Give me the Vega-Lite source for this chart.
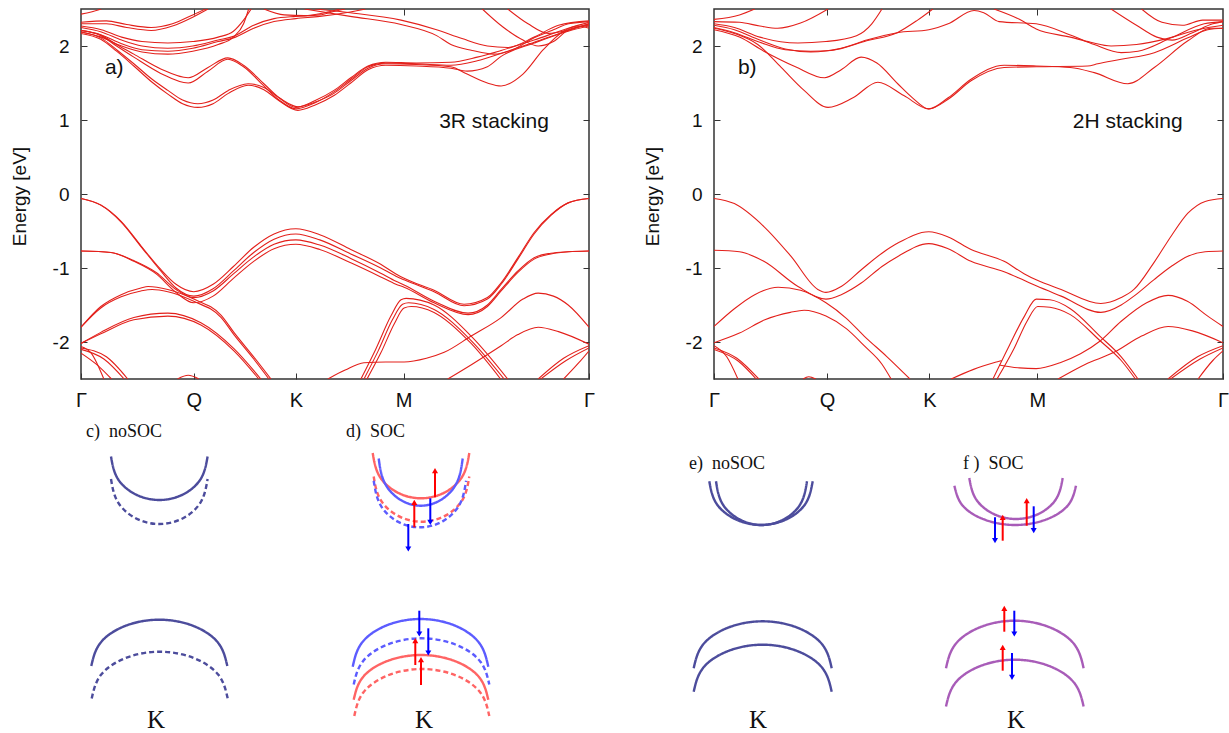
{
"$schema":"https://vega.github.io/schema/vega-lite/v6.json",
"padding":{"left":9,"top":7,"right":0,"bottom":0},
"background":"white",
"config":{"view":{"stroke":"#333","strokeWidth":1.5},"axis":{"labelFont":"Liberation Sans","titleFont":"Liberation Sans","tickColor":"#333","labelColor":"#111","titleColor":"#111","grid":false,"domain":false},"text":{"font":"Liberation Sans"}},
"datasets":{
"bandsA":[
{"b":"v1a","k":0,"E":-0.06},{"b":"v1a","k":0.039,"E":-0.15},{"b":"v1a","k":0.079,"E":-0.37},{"b":"v1a","k":0.118,"E":-0.70},{"b":"v1a","k":0.157,"E":-1.02},{"b":"v1a","k":0.187,"E":-1.22},{"b":"v1a","k":0.222,"E":-1.32},{"b":"v1a","k":0.26,"E":-1.22},{"b":"v1a","k":0.30,"E":-0.98},{"b":"v1a","k":0.34,"E":-0.72},{"b":"v1a","k":0.38,"E":-0.54},{"b":"v1a","k":0.423,"E":-0.47},{"b":"v1a","k":0.47,"E":-0.55},{"b":"v1a","k":0.531,"E":-0.75},{"b":"v1a","k":0.59,"E":-0.95},{"b":"v1a","k":0.62,"E":-1.08},{"b":"v1a","k":0.636,"E":-1.14},{"b":"v1a","k":0.695,"E":-1.30},{"b":"v1a","k":0.754,"E":-1.49},{"b":"v1a","k":0.80,"E":-1.40},{"b":"v1a","k":0.827,"E":-1.20},{"b":"v1a","k":0.86,"E":-0.86},{"b":"v1a","k":0.892,"E":-0.52},{"b":"v1a","k":0.925,"E":-0.28},{"b":"v1a","k":0.959,"E":-0.12},{"b":"v1a","k":1,"E":-0.06},
{"b":"v1b","k":0,"E":-0.06},{"b":"v1b","k":0.039,"E":-0.15},{"b":"v1b","k":0.079,"E":-0.38},{"b":"v1b","k":0.118,"E":-0.71},{"b":"v1b","k":0.157,"E":-1.04},{"b":"v1b","k":0.187,"E":-1.27},{"b":"v1b","k":0.222,"E":-1.38},{"b":"v1b","k":0.26,"E":-1.28},{"b":"v1b","k":0.30,"E":-1.04},{"b":"v1b","k":0.34,"E":-0.79},{"b":"v1b","k":0.38,"E":-0.61},{"b":"v1b","k":0.423,"E":-0.54},{"b":"v1b","k":0.47,"E":-0.62},{"b":"v1b","k":0.531,"E":-0.81},{"b":"v1b","k":0.59,"E":-1.0},{"b":"v1b","k":0.62,"E":-1.11},{"b":"v1b","k":0.636,"E":-1.16},{"b":"v1b","k":0.695,"E":-1.32},{"b":"v1b","k":0.754,"E":-1.51},{"b":"v1b","k":0.80,"E":-1.42},{"b":"v1b","k":0.827,"E":-1.22},{"b":"v1b","k":0.86,"E":-0.88},{"b":"v1b","k":0.892,"E":-0.54},{"b":"v1b","k":0.925,"E":-0.29},{"b":"v1b","k":0.959,"E":-0.12},{"b":"v1b","k":1,"E":-0.06},
{"b":"v2a","k":0,"E":-0.77},{"b":"v2a","k":0.059,"E":-0.79},{"b":"v2a","k":0.104,"E":-0.90},{"b":"v2a","k":0.148,"E":-1.06},{"b":"v2a","k":0.187,"E":-1.29},{"b":"v2a","k":0.222,"E":-1.40},{"b":"v2a","k":0.26,"E":-1.31},{"b":"v2a","k":0.30,"E":-1.08},{"b":"v2a","k":0.34,"E":-0.85},{"b":"v2a","k":0.38,"E":-0.68},{"b":"v2a","k":0.423,"E":-0.62},{"b":"v2a","k":0.47,"E":-0.69},{"b":"v2a","k":0.531,"E":-0.87},{"b":"v2a","k":0.59,"E":-1.07},{"b":"v2a","k":0.62,"E":-1.18},{"b":"v2a","k":0.636,"E":-1.23},{"b":"v2a","k":0.695,"E":-1.45},{"b":"v2a","k":0.762,"E":-1.61},{"b":"v2a","k":0.80,"E":-1.50},{"b":"v2a","k":0.827,"E":-1.29},{"b":"v2a","k":0.86,"E":-1.04},{"b":"v2a","k":0.892,"E":-0.86},{"b":"v2a","k":0.925,"E":-0.80},{"b":"v2a","k":0.959,"E":-0.78},{"b":"v2a","k":1,"E":-0.77},
{"b":"v2b","k":0,"E":-0.77},{"b":"v2b","k":0.059,"E":-0.79},{"b":"v2b","k":0.104,"E":-0.91},{"b":"v2b","k":0.148,"E":-1.08},{"b":"v2b","k":0.187,"E":-1.33},{"b":"v2b","k":0.222,"E":-1.47},{"b":"v2b","k":0.26,"E":-1.38},{"b":"v2b","k":0.30,"E":-1.14},{"b":"v2b","k":0.34,"E":-0.91},{"b":"v2b","k":0.38,"E":-0.74},{"b":"v2b","k":0.423,"E":-0.68},{"b":"v2b","k":0.47,"E":-0.75},{"b":"v2b","k":0.531,"E":-0.93},{"b":"v2b","k":0.59,"E":-1.12},{"b":"v2b","k":0.62,"E":-1.22},{"b":"v2b","k":0.636,"E":-1.26},{"b":"v2b","k":0.695,"E":-1.47},{"b":"v2b","k":0.762,"E":-1.63},{"b":"v2b","k":0.80,"E":-1.52},{"b":"v2b","k":0.827,"E":-1.31},{"b":"v2b","k":0.86,"E":-1.06},{"b":"v2b","k":0.892,"E":-0.88},{"b":"v2b","k":0.925,"E":-0.81},{"b":"v2b","k":0.959,"E":-0.78},{"b":"v2b","k":1,"E":-0.77},
{"b":"v3a","k":0,"E":-1.80},{"b":"v3a","k":0.039,"E":-1.52},{"b":"v3a","k":0.079,"E":-1.36},{"b":"v3a","k":0.118,"E":-1.27},{"b":"v3a","k":0.132,"E":-1.25},{"b":"v3a","k":0.171,"E":-1.29},{"b":"v3a","k":0.222,"E":-1.42},{"b":"v3a","k":0.276,"E":-1.64},{"b":"v3a","k":0.301,"E":-1.87},{"b":"v3a","k":0.34,"E":-2.2},{"b":"v3a","k":0.374,"E":-2.5},
{"b":"v3b","k":0,"E":-1.80},{"b":"v3b","k":0.039,"E":-1.54},{"b":"v3b","k":0.079,"E":-1.39},{"b":"v3b","k":0.118,"E":-1.31},{"b":"v3b","k":0.14,"E":-1.29},{"b":"v3b","k":0.171,"E":-1.32},{"b":"v3b","k":0.222,"E":-1.45},{"b":"v3b","k":0.276,"E":-1.67},{"b":"v3b","k":0.301,"E":-1.90},{"b":"v3b","k":0.34,"E":-2.23},{"b":"v3b","k":0.37,"E":-2.5},
{"b":"v4a","k":0,"E":-2.02},{"b":"v4a","k":0.039,"E":-1.87},{"b":"v4a","k":0.104,"E":-1.67},{"b":"v4a","k":0.171,"E":-1.61},{"b":"v4a","k":0.236,"E":-1.74},{"b":"v4a","k":0.301,"E":-2.09},{"b":"v4a","k":0.354,"E":-2.5},
{"b":"v4b","k":0,"E":-2.02},{"b":"v4b","k":0.039,"E":-1.89},{"b":"v4b","k":0.104,"E":-1.70},{"b":"v4b","k":0.171,"E":-1.65},{"b":"v4b","k":0.236,"E":-1.77},{"b":"v4b","k":0.301,"E":-2.12},{"b":"v4b","k":0.35,"E":-2.5},
{"b":"v5","k":0,"E":-2.06},{"b":"v5","k":0.02,"E":-2.15},{"b":"v5","k":0.045,"E":-2.5},
{"b":"v6","k":0,"E":-2.08},{"b":"v6","k":0.05,"E":-2.2},{"b":"v6","k":0.092,"E":-2.5},
{"b":"v7","k":0,"E":-2.10},{"b":"v7","k":0.045,"E":-2.23},{"b":"v7","k":0.085,"E":-2.5},
{"b":"v8","k":0,"E":-2.15},{"b":"v8","k":0.03,"E":-2.3},{"b":"v8","k":0.06,"E":-2.5},
{"b":"v9","k":0.486,"E":-2.5},{"b":"v9","k":0.52,"E":-2.38},{"b":"v9","k":0.557,"E":-2.28},{"b":"v9","k":0.60,"E":-2.27},{"b":"v9","k":0.636,"E":-2.27},{"b":"v9","k":0.68,"E":-2.22},{"b":"v9","k":0.715,"E":-2.14},{"b":"v9","k":0.768,"E":-1.92},{"b":"v9","k":0.827,"E":-1.67},{"b":"v9","k":0.87,"E":-1.42},{"b":"v9","k":0.90,"E":-1.34},{"b":"v9","k":0.93,"E":-1.38},{"b":"v9","k":0.959,"E":-1.50},{"b":"v9","k":1,"E":-1.80},
{"b":"v10","k":0.722,"E":-2.5},{"b":"v10","k":0.77,"E":-2.3},{"b":"v10","k":0.827,"E":-2.05},{"b":"v10","k":0.86,"E":-1.90},{"b":"v10","k":0.90,"E":-1.80},{"b":"v10","k":0.94,"E":-1.86},{"b":"v10","k":1,"E":-2.03},
{"b":"v11a","k":0.551,"E":-2.5},{"b":"v11a","k":0.58,"E":-2.1},{"b":"v11a","k":0.61,"E":-1.65},{"b":"v11a","k":0.63,"E":-1.43},{"b":"v11a","k":0.64,"E":-1.41},{"b":"v11a","k":0.695,"E":-1.50},{"b":"v11a","k":0.768,"E":-1.92},{"b":"v11a","k":0.84,"E":-2.5},
{"b":"v11b","k":0.557,"E":-2.5},{"b":"v11b","k":0.585,"E":-2.12},{"b":"v11b","k":0.613,"E":-1.7},{"b":"v11b","k":0.633,"E":-1.49},{"b":"v11b","k":0.645,"E":-1.47},{"b":"v11b","k":0.695,"E":-1.56},{"b":"v11b","k":0.768,"E":-1.98},{"b":"v11b","k":0.833,"E":-2.5},
{"b":"v11c","k":0.563,"E":-2.5},{"b":"v11c","k":0.59,"E":-2.15},{"b":"v11c","k":0.617,"E":-1.75},{"b":"v11c","k":0.636,"E":-1.54},{"b":"v11c","k":0.65,"E":-1.52},{"b":"v11c","k":0.695,"E":-1.60},{"b":"v11c","k":0.768,"E":-2.02},{"b":"v11c","k":0.826,"E":-2.5},
{"b":"v12","k":0.90,"E":-2.5},{"b":"v12","k":0.95,"E":-2.22},{"b":"v12","k":1,"E":-2.05},
{"b":"v13","k":0.905,"E":-2.5},{"b":"v13","k":0.955,"E":-2.25},{"b":"v13","k":1,"E":-2.08},
{"b":"v14","k":0.95,"E":-2.5},{"b":"v14","k":0.98,"E":-2.28},{"b":"v14","k":1,"E":-2.12},
{"b":"v15","k":0.19,"E":-2.5},{"b":"v15","k":0.211,"E":-2.45},{"b":"v15","k":0.232,"E":-2.5},
{"b":"c1a","k":0,"E":2.19},{"b":"c1a","k":0.039,"E":2.11},{"b":"c1a","k":0.07,"E":1.95},{"b":"c1a","k":0.104,"E":1.76},{"b":"c1a","k":0.14,"E":1.55},{"b":"c1a","k":0.171,"E":1.40},{"b":"c1a","k":0.20,"E":1.27},{"b":"c1a","k":0.230,"E":1.22},{"b":"c1a","k":0.26,"E":1.27},{"b":"c1a","k":0.29,"E":1.40},{"b":"c1a","k":0.329,"E":1.49},{"b":"c1a","k":0.36,"E":1.44},{"b":"c1a","k":0.39,"E":1.30},{"b":"c1a","k":0.427,"E":1.18},{"b":"c1a","k":0.46,"E":1.24},{"b":"c1a","k":0.498,"E":1.36},{"b":"c1a","k":0.531,"E":1.53},{"b":"c1a","k":0.565,"E":1.70},{"b":"c1a","k":0.60,"E":1.76},{"b":"c1a","k":0.66,"E":1.75},{"b":"c1a","k":0.728,"E":1.72},{"b":"c1a","k":0.76,"E":1.62},{"b":"c1a","k":0.80,"E":1.50},{"b":"c1a","k":0.827,"E":1.46},{"b":"c1a","k":0.87,"E":1.62},{"b":"c1a","k":0.91,"E":1.95},{"b":"c1a","k":0.95,"E":2.20},{"b":"c1a","k":0.98,"E":2.27},{"b":"c1a","k":1,"E":2.24},
{"b":"c1b","k":0,"E":2.17},{"b":"c1b","k":0.039,"E":2.09},{"b":"c1b","k":0.07,"E":1.93},{"b":"c1b","k":0.104,"E":1.73},{"b":"c1b","k":0.14,"E":1.51},{"b":"c1b","k":0.171,"E":1.35},{"b":"c1b","k":0.20,"E":1.22},{"b":"c1b","k":0.230,"E":1.17},{"b":"c1b","k":0.26,"E":1.22},{"b":"c1b","k":0.29,"E":1.36},{"b":"c1b","k":0.329,"E":1.47},{"b":"c1b","k":0.36,"E":1.41},{"b":"c1b","k":0.39,"E":1.26},{"b":"c1b","k":0.427,"E":1.13},{"b":"c1b","k":0.46,"E":1.20},{"b":"c1b","k":0.498,"E":1.33},{"b":"c1b","k":0.531,"E":1.50},{"b":"c1b","k":0.565,"E":1.68},{"b":"c1b","k":0.60,"E":1.74},{"b":"c1b","k":0.66,"E":1.73},{"b":"c1b","k":0.728,"E":1.70},{"b":"c1b","k":0.76,"E":1.66},{"b":"c1b","k":0.80,"E":1.72},{"b":"c1b","k":0.827,"E":1.86},{"b":"c1b","k":0.892,"E":2.04},{"b":"c1b","k":0.959,"E":2.20},{"b":"c1b","k":1,"E":2.27},
{"b":"c2a","k":0,"E":2.21},{"b":"c2a","k":0.039,"E":2.15},{"b":"c2a","k":0.07,"E":2.02},{"b":"c2a","k":0.104,"E":1.89},{"b":"c2a","k":0.157,"E":1.69},{"b":"c2a","k":0.211,"E":1.57},{"b":"c2a","k":0.25,"E":1.71},{"b":"c2a","k":0.289,"E":1.84},{"b":"c2a","k":0.32,"E":1.74},{"b":"c2a","k":0.36,"E":1.49},{"b":"c2a","k":0.39,"E":1.30},{"b":"c2a","k":0.423,"E":1.17},{"b":"c2a","k":0.46,"E":1.26},{"b":"c2a","k":0.498,"E":1.40},{"b":"c2a","k":0.531,"E":1.57},{"b":"c2a","k":0.565,"E":1.73},{"b":"c2a","k":0.60,"E":1.78},{"b":"c2a","k":0.66,"E":1.77},{"b":"c2a","k":0.728,"E":1.78},{"b":"c2a","k":0.78,"E":1.85},{"b":"c2a","k":0.827,"E":1.94},{"b":"c2a","k":0.892,"E":2.08},{"b":"c2a","k":0.959,"E":2.24},{"b":"c2a","k":1,"E":2.32},
{"b":"c2b","k":0,"E":2.21},{"b":"c2b","k":0.039,"E":2.14},{"b":"c2b","k":0.07,"E":2.0},{"b":"c2b","k":0.104,"E":1.85},{"b":"c2b","k":0.157,"E":1.63},{"b":"c2b","k":0.211,"E":1.50},{"b":"c2b","k":0.25,"E":1.66},{"b":"c2b","k":0.289,"E":1.82},{"b":"c2b","k":0.32,"E":1.72},{"b":"c2b","k":0.36,"E":1.46},{"b":"c2b","k":0.39,"E":1.27},{"b":"c2b","k":0.423,"E":1.15},{"b":"c2b","k":0.46,"E":1.23},{"b":"c2b","k":0.498,"E":1.38},{"b":"c2b","k":0.531,"E":1.55},{"b":"c2b","k":0.565,"E":1.72},{"b":"c2b","k":0.60,"E":1.77},{"b":"c2b","k":0.66,"E":1.76},{"b":"c2b","k":0.728,"E":1.74},{"b":"c2b","k":0.78,"E":1.80},{"b":"c2b","k":0.827,"E":1.90},{"b":"c2b","k":0.892,"E":2.05},{"b":"c2b","k":0.959,"E":2.21},{"b":"c2b","k":1,"E":2.30},
{"b":"u1","k":0,"E":2.43},{"b":"u1","k":0.02,"E":2.46},{"b":"u1","k":0.04,"E":2.5},
{"b":"u2","k":0,"E":2.32},{"b":"u2","k":0.05,"E":2.34},{"b":"u2","k":0.09,"E":2.29},{"b":"u2","k":0.138,"E":2.25},{"b":"u2","k":0.18,"E":2.30},{"b":"u2","k":0.22,"E":2.42},{"b":"u2","k":0.245,"E":2.5},
{"b":"u3","k":0,"E":2.30},{"b":"u3","k":0.05,"E":2.30},{"b":"u3","k":0.09,"E":2.25},{"b":"u3","k":0.138,"E":2.21},{"b":"u3","k":0.18,"E":2.27},{"b":"u3","k":0.22,"E":2.39},{"b":"u3","k":0.25,"E":2.5},
{"b":"u4","k":0,"E":2.27},{"b":"u4","k":0.04,"E":2.22},{"b":"u4","k":0.08,"E":2.12},{"b":"u4","k":0.12,"E":2.06},{"b":"u4","k":0.171,"E":2.04},{"b":"u4","k":0.22,"E":2.06},{"b":"u4","k":0.27,"E":2.12},{"b":"u4","k":0.30,"E":2.2},{"b":"u4","k":0.32,"E":2.35},{"b":"u4","k":0.335,"E":2.5},
{"b":"u5","k":0,"E":2.25},{"b":"u5","k":0.04,"E":2.19},{"b":"u5","k":0.08,"E":2.08},{"b":"u5","k":0.12,"E":2.0},{"b":"u5","k":0.171,"E":1.97},{"b":"u5","k":0.22,"E":2.0},{"b":"u5","k":0.27,"E":2.08},{"b":"u5","k":0.30,"E":2.13},{"b":"u5","k":0.34,"E":2.28},{"b":"u5","k":0.38,"E":2.37},{"b":"u5","k":0.423,"E":2.40},{"b":"u5","k":0.47,"E":2.42},{"b":"u5","k":0.50,"E":2.47},{"b":"u5","k":0.52,"E":2.5},
{"b":"u6","k":0,"E":2.21},{"b":"u6","k":0.04,"E":2.15},{"b":"u6","k":0.08,"E":2.03},{"b":"u6","k":0.12,"E":1.95},{"b":"u6","k":0.171,"E":1.93},{"b":"u6","k":0.22,"E":1.97},{"b":"u6","k":0.27,"E":2.06},{"b":"u6","k":0.30,"E":2.11},{"b":"u6","k":0.34,"E":2.24},{"b":"u6","k":0.38,"E":2.33},{"b":"u6","k":0.423,"E":2.37},{"b":"u6","k":0.47,"E":2.40},{"b":"u6","k":0.53,"E":2.46},{"b":"u6","k":0.56,"E":2.5},
{"b":"u7","k":0,"E":2.19},{"b":"u7","k":0.04,"E":2.12},{"b":"u7","k":0.08,"E":2.0},{"b":"u7","k":0.12,"E":1.92},{"b":"u7","k":0.171,"E":1.89},{"b":"u7","k":0.22,"E":1.93},{"b":"u7","k":0.27,"E":2.02},{"b":"u7","k":0.30,"E":2.12},{"b":"u7","k":0.32,"E":2.3},{"b":"u7","k":0.33,"E":2.5},
{"b":"u8","k":0.44,"E":2.5},{"b":"u8","k":0.53,"E":2.40},{"b":"u8","k":0.63,"E":2.29},{"b":"u8","k":0.70,"E":2.14},{"b":"u8","k":0.728,"E":2.02},{"b":"u8","k":0.77,"E":1.94},{"b":"u8","k":0.813,"E":1.89},{"b":"u8","k":0.85,"E":1.95},{"b":"u8","k":0.892,"E":2.11},{"b":"u8","k":0.93,"E":2.22},{"b":"u8","k":0.96,"E":2.30},{"b":"u8","k":1,"E":2.33},
{"b":"u9","k":0.46,"E":2.5},{"b":"u9","k":0.53,"E":2.45},{"b":"u9","k":0.63,"E":2.35},{"b":"u9","k":0.70,"E":2.22},{"b":"u9","k":0.75,"E":2.10},{"b":"u9","k":0.80,"E":2.0},{"b":"u9","k":0.84,"E":1.98},{"b":"u9","k":0.892,"E":2.12},{"b":"u9","k":0.94,"E":2.28},{"b":"u9","k":1,"E":2.34},
{"b":"u10","k":0.79,"E":2.5},{"b":"u10","k":0.83,"E":2.26},{"b":"u10","k":0.87,"E":2.08},{"b":"u10","k":0.90,"E":2.0},{"b":"u10","k":0.93,"E":2.06},{"b":"u10","k":0.96,"E":2.22},{"b":"u10","k":1,"E":2.28},
{"b":"u11","k":0.84,"E":2.5},{"b":"u11","k":0.88,"E":2.3},{"b":"u11","k":0.92,"E":2.17},{"b":"u11","k":0.96,"E":2.22},{"b":"u11","k":1,"E":2.3},
{"b":"u12","k":0.36,"E":2.5},{"b":"u12","k":0.40,"E":2.42},{"b":"u12","k":0.44,"E":2.41},{"b":"u12","k":0.48,"E":2.45},{"b":"u12","k":0.51,"E":2.5}
],
"bandsB":[
{"b":"v1","k":0,"E":-0.06},{"b":"v1","k":0.04,"E":-0.13},{"b":"v1","k":0.098,"E":-0.44},{"b":"v1","k":0.151,"E":-0.84},{"b":"v1","k":0.204,"E":-1.29},{"b":"v1","k":0.220,"E":-1.33},{"b":"v1","k":0.25,"E":-1.25},{"b":"v1","k":0.29,"E":-1.02},{"b":"v1","k":0.33,"E":-0.80},{"b":"v1","k":0.362,"E":-0.66},{"b":"v1","k":0.422,"E":-0.51},{"b":"v1","k":0.46,"E":-0.58},{"b":"v1","k":0.505,"E":-0.75},{"b":"v1","k":0.570,"E":-0.91},{"b":"v1","k":0.61,"E":-1.08},{"b":"v1","k":0.633,"E":-1.16},{"b":"v1","k":0.682,"E":-1.29},{"b":"v1","k":0.760,"E":-1.48},{"b":"v1","k":0.80,"E":-1.40},{"b":"v1","k":0.825,"E":-1.29},{"b":"v1","k":0.864,"E":-0.93},{"b":"v1","k":0.90,"E":-0.55},{"b":"v1","k":0.931,"E":-0.26},{"b":"v1","k":0.965,"E":-0.10},{"b":"v1","k":1,"E":-0.06},
{"b":"v2","k":0,"E":-0.76},{"b":"v2","k":0.05,"E":-0.78},{"b":"v2","k":0.098,"E":-0.91},{"b":"v2","k":0.165,"E":-1.25},{"b":"v2","k":0.220,"E":-1.42},{"b":"v2","k":0.25,"E":-1.36},{"b":"v2","k":0.29,"E":-1.20},{"b":"v2","k":0.33,"E":-0.98},{"b":"v2","k":0.362,"E":-0.84},{"b":"v2","k":0.422,"E":-0.67},{"b":"v2","k":0.46,"E":-0.74},{"b":"v2","k":0.505,"E":-0.91},{"b":"v2","k":0.570,"E":-1.05},{"b":"v2","k":0.61,"E":-1.17},{"b":"v2","k":0.633,"E":-1.24},{"b":"v2","k":0.682,"E":-1.38},{"b":"v2","k":0.760,"E":-1.60},{"b":"v2","k":0.80,"E":-1.50},{"b":"v2","k":0.825,"E":-1.38},{"b":"v2","k":0.864,"E":-1.16},{"b":"v2","k":0.90,"E":-0.97},{"b":"v2","k":0.931,"E":-0.84},{"b":"v2","k":0.965,"E":-0.78},{"b":"v2","k":1,"E":-0.77},
{"b":"v3","k":0,"E":-1.79},{"b":"v3","k":0.04,"E":-1.55},{"b":"v3","k":0.08,"E":-1.36},{"b":"v3","k":0.126,"E":-1.26},{"b":"v3","k":0.17,"E":-1.30},{"b":"v3","k":0.220,"E":-1.47},{"b":"v3","k":0.26,"E":-1.68},{"b":"v3","k":0.295,"E":-1.92},{"b":"v3","k":0.34,"E":-2.2},{"b":"v3","k":0.385,"E":-2.5},
{"b":"v4","k":0,"E":-2.01},{"b":"v4","k":0.05,"E":-1.88},{"b":"v4","k":0.10,"E":-1.70},{"b":"v4","k":0.15,"E":-1.60},{"b":"v4","k":0.177,"E":-1.57},{"b":"v4","k":0.22,"E":-1.65},{"b":"v4","k":0.26,"E":-1.82},{"b":"v4","k":0.295,"E":-2.05},{"b":"v4","k":0.33,"E":-2.3},{"b":"v4","k":0.348,"E":-2.5},
{"b":"v5","k":0,"E":-2.05},{"b":"v5","k":0.025,"E":-2.2},{"b":"v5","k":0.047,"E":-2.5},
{"b":"v6","k":0,"E":-2.08},{"b":"v6","k":0.045,"E":-2.22},{"b":"v6","k":0.088,"E":-2.5},
{"b":"v7","k":0,"E":-2.10},{"b":"v7","k":0.048,"E":-2.26},{"b":"v7","k":0.083,"E":-2.5},
{"b":"v8","k":0.175,"E":-2.5},{"b":"v8","k":0.186,"E":-2.47},{"b":"v8","k":0.2,"E":-2.5},
{"b":"v9","k":0.466,"E":-2.5},{"b":"v9","k":0.51,"E":-2.37},{"b":"v9","k":0.555,"E":-2.27},{"b":"v9","k":0.565,"E":-2.25},
{"b":"v10","k":0.56,"E":-2.31},{"b":"v10","k":0.60,"E":-2.35},{"b":"v10","k":0.633,"E":-2.36},{"b":"v10","k":0.68,"E":-2.28},{"b":"v10","k":0.72,"E":-2.16},{"b":"v10","k":0.758,"E":-1.99},{"b":"v10","k":0.80,"E":-1.72},{"b":"v10","k":0.85,"E":-1.47},{"b":"v10","k":0.892,"E":-1.37},{"b":"v10","k":0.93,"E":-1.45},{"b":"v10","k":0.97,"E":-1.65},{"b":"v10","k":1,"E":-1.79},
{"b":"v11","k":0.676,"E":-2.5},{"b":"v11","k":0.73,"E":-2.3},{"b":"v11","k":0.786,"E":-2.14},{"b":"v11","k":0.84,"E":-1.92},{"b":"v11","k":0.892,"E":-1.79},{"b":"v11","k":0.94,"E":-1.85},{"b":"v11","k":1,"E":-2.01},
{"b":"v12","k":0.548,"E":-2.5},{"b":"v12","k":0.58,"E":-2.05},{"b":"v12","k":0.61,"E":-1.65},{"b":"v12","k":0.633,"E":-1.42},{"b":"v12","k":0.66,"E":-1.43},{"b":"v12","k":0.70,"E":-1.55},{"b":"v12","k":0.758,"E":-1.92},{"b":"v12","k":0.80,"E":-2.2},{"b":"v12","k":0.833,"E":-2.5},
{"b":"v13","k":0.556,"E":-2.5},{"b":"v13","k":0.59,"E":-2.08},{"b":"v13","k":0.615,"E":-1.72},{"b":"v13","k":0.636,"E":-1.52},{"b":"v13","k":0.66,"E":-1.53},{"b":"v13","k":0.70,"E":-1.63},{"b":"v13","k":0.758,"E":-1.98},{"b":"v13","k":0.80,"E":-2.25},{"b":"v13","k":0.828,"E":-2.5},
{"b":"v14","k":0.892,"E":-2.5},{"b":"v14","k":0.95,"E":-2.2},{"b":"v14","k":1,"E":-2.05},
{"b":"v15","k":0.897,"E":-2.5},{"b":"v15","k":0.955,"E":-2.23},{"b":"v15","k":1,"E":-2.08},
{"b":"v16","k":0.951,"E":-2.5},{"b":"v16","k":0.98,"E":-2.25},{"b":"v16","k":1,"E":-2.12},
{"b":"c1","k":0,"E":2.24},{"b":"c1","k":0.04,"E":2.17},{"b":"c1","k":0.086,"E":2.02},{"b":"c1","k":0.132,"E":1.71},{"b":"c1","k":0.177,"E":1.40},{"b":"c1","k":0.224,"E":1.17},{"b":"c1","k":0.273,"E":1.30},{"b":"c1","k":0.322,"E":1.51},{"b":"c1","k":0.373,"E":1.33},{"b":"c1","k":0.422,"E":1.15},{"b":"c1","k":0.46,"E":1.30},{"b":"c1","k":0.505,"E":1.55},{"b":"c1","k":0.570,"E":1.74},{"b":"c1","k":0.633,"E":1.73},{"b":"c1","k":0.70,"E":1.71},{"b":"c1","k":0.747,"E":1.64},{"b":"c1","k":0.813,"E":1.49},{"b":"c1","k":0.865,"E":1.71},{"b":"c1","k":0.931,"E":2.07},{"b":"c1","k":0.976,"E":2.24},{"b":"c1","k":1,"E":2.24},
{"b":"c2","k":0,"E":2.22},{"b":"c2","k":0.05,"E":2.12},{"b":"c2","k":0.098,"E":1.93},{"b":"c2","k":0.16,"E":1.72},{"b":"c2","k":0.217,"E":1.57},{"b":"c2","k":0.25,"E":1.68},{"b":"c2","k":0.289,"E":1.85},{"b":"c2","k":0.32,"E":1.77},{"b":"c2","k":0.361,"E":1.49},{"b":"c2","k":0.39,"E":1.30},{"b":"c2","k":0.422,"E":1.15},{"b":"c2","k":0.46,"E":1.28},{"b":"c2","k":0.505,"E":1.53},{"b":"c2","k":0.570,"E":1.71},{"b":"c2","k":0.633,"E":1.72},{"b":"c2","k":0.734,"E":1.73},{"b":"c2","k":0.754,"E":1.76},{"b":"c2","k":0.80,"E":1.82},{"b":"c2","k":0.865,"E":1.91},{"b":"c2","k":0.931,"E":2.11},{"b":"c2","k":0.97,"E":2.22},{"b":"c2","k":1,"E":2.24},
{"b":"u1","k":0,"E":2.33},{"b":"u1","k":0.05,"E":2.32},{"b":"u1","k":0.09,"E":2.27},{"b":"u1","k":0.125,"E":2.24},{"b":"u1","k":0.17,"E":2.31},{"b":"u1","k":0.224,"E":2.5},
{"b":"u2","k":0,"E":2.30},{"b":"u2","k":0.04,"E":2.25},{"b":"u2","k":0.09,"E":2.12},{"b":"u2","k":0.165,"E":2.04},{"b":"u2","k":0.22,"E":2.06},{"b":"u2","k":0.28,"E":2.14},{"b":"u2","k":0.31,"E":2.3},{"b":"u2","k":0.33,"E":2.5},
{"b":"u3","k":0,"E":2.28},{"b":"u3","k":0.04,"E":2.22},{"b":"u3","k":0.09,"E":2.08},{"b":"u3","k":0.14,"E":1.96},{"b":"u3","k":0.19,"E":1.92},{"b":"u3","k":0.25,"E":1.97},{"b":"u3","k":0.30,"E":2.08},{"b":"u3","k":0.36,"E":2.18},{"b":"u3","k":0.422,"E":2.22},{"b":"u3","k":0.46,"E":2.30},{"b":"u3","k":0.511,"E":2.48},{"b":"u3","k":0.53,"E":2.45},{"b":"u3","k":0.56,"E":2.33},{"b":"u3","k":0.633,"E":2.30},{"b":"u3","k":0.70,"E":2.15},{"b":"u3","k":0.747,"E":2.02},{"b":"u3","k":0.80,"E":1.91},{"b":"u3","k":0.833,"E":1.93},{"b":"u3","k":0.898,"E":2.11},{"b":"u3","k":0.963,"E":2.30},{"b":"u3","k":1,"E":2.33},
{"b":"u4","k":0,"E":2.25},{"b":"u4","k":0.04,"E":2.18},{"b":"u4","k":0.09,"E":2.05},{"b":"u4","k":0.14,"E":1.95},{"b":"u4","k":0.19,"E":1.93},{"b":"u4","k":0.23,"E":1.94},{"b":"u4","k":0.30,"E":2.07},{"b":"u4","k":0.36,"E":2.18},{"b":"u4","k":0.40,"E":2.35},{"b":"u4","k":0.43,"E":2.5},
{"b":"u5","k":0.55,"E":2.5},{"b":"u5","k":0.60,"E":2.36},{"b":"u5","k":0.633,"E":2.23},{"b":"u5","k":0.70,"E":2.12},{"b":"u5","k":0.74,"E":2.05},{"b":"u5","k":0.78,"E":2.0},{"b":"u5","k":0.83,"E":2.02},{"b":"u5","k":0.89,"E":2.10},{"b":"u5","k":0.95,"E":2.22},{"b":"u5","k":1,"E":2.28},
{"b":"u6","k":0.78,"E":2.5},{"b":"u6","k":0.83,"E":2.28},{"b":"u6","k":0.87,"E":2.12},{"b":"u6","k":0.90,"E":2.08},{"b":"u6","k":0.94,"E":2.18},{"b":"u6","k":0.98,"E":2.3},{"b":"u6","k":1,"E":2.33},
{"b":"u7","k":0.84,"E":2.5},{"b":"u7","k":0.88,"E":2.32},{"b":"u7","k":0.92,"E":2.28},{"b":"u7","k":0.96,"E":2.35},{"b":"u7","k":1,"E":2.35},
{"b":"u8","k":0,"E":2.36},{"b":"u8","k":0.05,"E":2.42},{"b":"u8","k":0.08,"E":2.5}
],
"curves":[
{"c":"c1","s":"noSOC","layer":"L1","X":11.00,"Y":27.55},{"c":"c1","s":"noSOC","layer":"L1","X":11.65,"Y":25.37},{"c":"c1","s":"noSOC","layer":"L1","X":13.42,"Y":23.78},{"c":"c1","s":"noSOC","layer":"L1","X":15.83,"Y":23.20},{"c":"c1","s":"noSOC","layer":"L1","X":18.25,"Y":23.78},{"c":"c1","s":"noSOC","layer":"L1","X":20.01,"Y":25.37},{"c":"c1","s":"noSOC","layer":"L1","X":20.66,"Y":27.55},
{"c":"c2","s":"noSOC","layer":"L2","X":11.00,"Y":25.30},{"c":"c2","s":"noSOC","layer":"L2","X":11.65,"Y":23.05},{"c":"c2","s":"noSOC","layer":"L2","X":13.42,"Y":21.40},{"c":"c2","s":"noSOC","layer":"L2","X":15.83,"Y":20.80},{"c":"c2","s":"noSOC","layer":"L2","X":18.25,"Y":21.40},{"c":"c2","s":"noSOC","layer":"L2","X":20.01,"Y":23.05},{"c":"c2","s":"noSOC","layer":"L2","X":20.66,"Y":25.30},
{"c":"c3","s":"noSOC","layer":"L1","X":9.03,"Y":6.60},{"c":"c3","s":"noSOC","layer":"L1","X":9.94,"Y":8.91},{"c":"c3","s":"noSOC","layer":"L1","X":12.43,"Y":10.61},{"c":"c3","s":"noSOC","layer":"L1","X":15.83,"Y":11.23},{"c":"c3","s":"noSOC","layer":"L1","X":19.23,"Y":10.61},{"c":"c3","s":"noSOC","layer":"L1","X":21.72,"Y":8.91},{"c":"c3","s":"noSOC","layer":"L1","X":22.63,"Y":6.60},
{"c":"c4","s":"noSOC","layer":"L2","X":9.07,"Y":3.35},{"c":"c4","s":"noSOC","layer":"L2","X":9.98,"Y":5.69},{"c":"c4","s":"noSOC","layer":"L2","X":12.47,"Y":7.40},{"c":"c4","s":"noSOC","layer":"L2","X":15.87,"Y":8.03},{"c":"c4","s":"noSOC","layer":"L2","X":19.27,"Y":7.40},{"c":"c4","s":"noSOC","layer":"L2","X":21.76,"Y":5.69},{"c":"c4","s":"noSOC","layer":"L2","X":22.67,"Y":3.35},
{"c":"d1","s":"bandUp","layer":"L1","X":37.17,"Y":27.90},{"c":"d1","s":"bandUp","layer":"L1","X":37.82,"Y":25.63},{"c":"d1","s":"bandUp","layer":"L1","X":39.59,"Y":23.98},{"c":"d1","s":"bandUp","layer":"L1","X":42.0,"Y":23.37},{"c":"d1","s":"bandUp","layer":"L1","X":44.42,"Y":23.98},{"c":"d1","s":"bandUp","layer":"L1","X":46.18,"Y":25.63},{"c":"d1","s":"bandUp","layer":"L1","X":46.83,"Y":27.90},
{"c":"d2","s":"bandDown","layer":"L1","X":37.77,"Y":27.35},{"c":"d2","s":"bandDown","layer":"L1","X":38.33,"Y":24.99},{"c":"d2","s":"bandDown","layer":"L1","X":39.87,"Y":23.26},{"c":"d2","s":"bandDown","layer":"L1","X":41.97,"Y":22.63},{"c":"d2","s":"bandDown","layer":"L1","X":44.07,"Y":23.26},{"c":"d2","s":"bandDown","layer":"L1","X":45.61,"Y":24.99},{"c":"d2","s":"bandDown","layer":"L1","X":46.17,"Y":27.35},
{"c":"d3","s":"bandUp","layer":"L2","X":37.27,"Y":25.55},{"c":"d3","s":"bandUp","layer":"L2","X":37.91,"Y":23.29},{"c":"d3","s":"bandUp","layer":"L2","X":39.66,"Y":21.64},{"c":"d3","s":"bandUp","layer":"L2","X":42.05,"Y":21.03},{"c":"d3","s":"bandUp","layer":"L2","X":44.44,"Y":21.64},{"c":"d3","s":"bandUp","layer":"L2","X":46.19,"Y":23.29},{"c":"d3","s":"bandUp","layer":"L2","X":46.83,"Y":25.55},
{"c":"d4","s":"bandDown","layer":"L2","X":37.27,"Y":25.13},{"c":"d4","s":"bandDown","layer":"L2","X":37.89,"Y":22.80},{"c":"d4","s":"bandDown","layer":"L2","X":39.58,"Y":21.09},{"c":"d4","s":"bandDown","layer":"L2","X":41.89,"Y":20.47},{"c":"d4","s":"bandDown","layer":"L2","X":44.20,"Y":21.09},{"c":"d4","s":"bandDown","layer":"L2","X":45.89,"Y":22.80},{"c":"d4","s":"bandDown","layer":"L2","X":46.51,"Y":25.13},
{"c":"d5","s":"bandDown","layer":"L1","X":35.17,"Y":6.52},{"c":"d5","s":"bandDown","layer":"L1","X":36.08,"Y":8.91},{"c":"d5","s":"bandDown","layer":"L1","X":38.56,"Y":10.66},{"c":"d5","s":"bandDown","layer":"L1","X":41.95,"Y":11.30},{"c":"d5","s":"bandDown","layer":"L1","X":45.34,"Y":10.66},{"c":"d5","s":"bandDown","layer":"L1","X":47.82,"Y":8.91},{"c":"d5","s":"bandDown","layer":"L1","X":48.73,"Y":6.52},
{"c":"d6","s":"bandDown","layer":"L2","X":35.27,"Y":4.75},{"c":"d6","s":"bandDown","layer":"L2","X":36.18,"Y":7.06},{"c":"d6","s":"bandDown","layer":"L2","X":38.66,"Y":8.75},{"c":"d6","s":"bandDown","layer":"L2","X":42.05,"Y":9.37},{"c":"d6","s":"bandDown","layer":"L2","X":45.44,"Y":8.75},{"c":"d6","s":"bandDown","layer":"L2","X":47.92,"Y":7.06},{"c":"d6","s":"bandDown","layer":"L2","X":48.83,"Y":4.75},
{"c":"d7","s":"bandUp","layer":"L1","X":35.27,"Y":3.22},{"c":"d7","s":"bandUp","layer":"L1","X":36.17,"Y":5.46},{"c":"d7","s":"bandUp","layer":"L1","X":38.64,"Y":7.10},{"c":"d7","s":"bandUp","layer":"L1","X":42.0,"Y":7.70},{"c":"d7","s":"bandUp","layer":"L1","X":45.37,"Y":7.10},{"c":"d7","s":"bandUp","layer":"L1","X":47.83,"Y":5.46},{"c":"d7","s":"bandUp","layer":"L1","X":48.73,"Y":3.22},
{"c":"d8","s":"bandUp","layer":"L2","X":35.33,"Y":1.60},{"c":"d8","s":"bandUp","layer":"L2","X":36.23,"Y":3.95},{"c":"d8","s":"bandUp","layer":"L2","X":38.71,"Y":5.67},{"c":"d8","s":"bandUp","layer":"L2","X":42.08,"Y":6.30},{"c":"d8","s":"bandUp","layer":"L2","X":45.46,"Y":5.67},{"c":"d8","s":"bandUp","layer":"L2","X":47.93,"Y":3.95},{"c":"d8","s":"bandUp","layer":"L2","X":48.83,"Y":1.60},
{"c":"e1","s":"noSOC","layer":"L1","X":70.83,"Y":25.07},{"c":"e1","s":"noSOC","layer":"L1","X":71.52,"Y":22.88},{"c":"e1","s":"noSOC","layer":"L1","X":73.42,"Y":21.29},{"c":"e1","s":"noSOC","layer":"L1","X":76.0,"Y":20.70},{"c":"e1","s":"noSOC","layer":"L1","X":78.59,"Y":21.29},{"c":"e1","s":"noSOC","layer":"L1","X":80.48,"Y":22.88},{"c":"e1","s":"noSOC","layer":"L1","X":81.17,"Y":25.07},
{"c":"e2","s":"noSOC","layer":"L1","X":71.50,"Y":25.07},{"c":"e2","s":"noSOC","layer":"L1","X":72.11,"Y":22.88},{"c":"e2","s":"noSOC","layer":"L1","X":73.80,"Y":21.29},{"c":"e2","s":"noSOC","layer":"L1","X":76.05,"Y":20.70},{"c":"e2","s":"noSOC","layer":"L1","X":78.33,"Y":21.29},{"c":"e2","s":"noSOC","layer":"L1","X":79.99,"Y":22.88},{"c":"e2","s":"noSOC","layer":"L1","X":80.60,"Y":25.07},
{"c":"e3","s":"noSOC","layer":"L1","X":69.27,"Y":6.38},{"c":"e3","s":"noSOC","layer":"L1","X":70.19,"Y":8.72},{"c":"e3","s":"noSOC","layer":"L1","X":72.72,"Y":10.44},{"c":"e3","s":"noSOC","layer":"L1","X":76.17,"Y":11.07},{"c":"e3","s":"noSOC","layer":"L1","X":79.62,"Y":10.44},{"c":"e3","s":"noSOC","layer":"L1","X":82.15,"Y":8.72},{"c":"e3","s":"noSOC","layer":"L1","X":83.07,"Y":6.38},
{"c":"e4","s":"noSOC","layer":"L1","X":69.27,"Y":4.02},{"c":"e4","s":"noSOC","layer":"L1","X":70.19,"Y":6.38},{"c":"e4","s":"noSOC","layer":"L1","X":72.72,"Y":8.10},{"c":"e4","s":"noSOC","layer":"L1","X":76.17,"Y":8.73},{"c":"e4","s":"noSOC","layer":"L1","X":79.62,"Y":8.10},{"c":"e4","s":"noSOC","layer":"L1","X":82.15,"Y":6.38},{"c":"e4","s":"noSOC","layer":"L1","X":83.07,"Y":4.02},
{"c":"f1","s":"both","layer":"L1","X":95.34,"Y":24.63},{"c":"f1","s":"both","layer":"L1","X":96.15,"Y":22.66},{"c":"f1","s":"both","layer":"L1","X":98.38,"Y":21.23},{"c":"f1","s":"both","layer":"L1","X":101.42,"Y":20.70},{"c":"f1","s":"both","layer":"L1","X":104.46,"Y":21.23},{"c":"f1","s":"both","layer":"L1","X":106.69,"Y":22.66},{"c":"f1","s":"both","layer":"L1","X":107.50,"Y":24.63},
{"c":"f2","s":"both","layer":"L1","X":96.83,"Y":25.40},{"c":"f2","s":"both","layer":"L1","X":97.46,"Y":23.35},{"c":"f2","s":"both","layer":"L1","X":99.17,"Y":21.85},{"c":"f2","s":"both","layer":"L1","X":101.5,"Y":21.30},{"c":"f2","s":"both","layer":"L1","X":103.84,"Y":21.85},{"c":"f2","s":"both","layer":"L1","X":105.54,"Y":23.35},{"c":"f2","s":"both","layer":"L1","X":106.17,"Y":25.40},
{"c":"f3","s":"both","layer":"L1","X":94.50,"Y":6.38},{"c":"f3","s":"both","layer":"L1","X":95.42,"Y":8.75},{"c":"f3","s":"both","layer":"L1","X":97.94,"Y":10.49},{"c":"f3","s":"both","layer":"L1","X":101.38,"Y":11.13},{"c":"f3","s":"both","layer":"L1","X":104.82,"Y":10.49},{"c":"f3","s":"both","layer":"L1","X":107.34,"Y":8.75},{"c":"f3","s":"both","layer":"L1","X":108.26,"Y":6.38},
{"c":"f4","s":"both","layer":"L1","X":94.50,"Y":2.55},{"c":"f4","s":"both","layer":"L1","X":95.42,"Y":4.89},{"c":"f4","s":"both","layer":"L1","X":97.94,"Y":6.60},{"c":"f4","s":"both","layer":"L1","X":101.38,"Y":7.23},{"c":"f4","s":"both","layer":"L1","X":104.82,"Y":6.60},{"c":"f4","s":"both","layer":"L1","X":107.34,"Y":4.89},{"c":"f4","s":"both","layer":"L1","X":108.26,"Y":2.55}
],
"arrows":[
{"spin":"up","X":43.4,"tail":23.47,"head":26.13},
{"spin":"up","X":41.33,"tail":20.47,"head":22.97},
{"spin":"down","X":42.93,"tail":23.37,"head":20.97},
{"spin":"down","X":40.73,"tail":20.8,"head":18.3},
{"spin":"down","X":41.83,"tail":12.13,"head":9.8},
{"spin":"down","X":42.73,"tail":10.37,"head":7.9},
{"spin":"up","X":41.43,"tail":6.7,"head":9.13},
{"spin":"up","X":42.0,"tail":4.7,"head":7.23},
{"spin":"down","X":99.4,"tail":21.47,"head":19.13},
{"spin":"up","X":100.17,"tail":19.13,"head":21.47},
{"spin":"up","X":102.57,"tail":20.63,"head":23.13},
{"spin":"down","X":103.27,"tail":22.57,"head":20.13},
{"spin":"up","X":100.33,"tail":10.03,"head":12.37},
{"spin":"down","X":101.33,"tail":12.13,"head":9.8},
{"spin":"up","X":100.17,"tail":6.13,"head":8.47},
{"spin":"down","X":101.1,"tail":7.9,"head":5.47}
],
"titles":[
{"X":8.5,"Y":29.5,"t":"c)\u00a0\u00a0noSOC"},
{"X":34.5,"Y":29.5,"t":"d)\u00a0\u00a0SOC"},
{"X":68.8,"Y":26.3,"t":"e)\u00a0\u00a0noSOC"},
{"X":96.2,"Y":26.3,"t":"f\u00a0)\u00a0\u00a0SOC"}
],
"klabels":[
{"X":15.5,"Y":0.4,"t":"K"},{"X":42.3,"Y":0.4,"t":"K"},{"X":75.7,"Y":0.4,"t":"K"},{"X":101.5,"Y":0.4,"t":"K"}
]
},
"spacing":8,
"vconcat":[
{"hconcat":[
{"width":508,"height":370,
 "layer":[
  {"data":{"name":"bandsA"},"mark":{"type":"line","color":"#e3201b","strokeWidth":1.1,"interpolate":"monotone","clip":true},
   "encoding":{"x":{"field":"k","type":"quantitative","scale":{"domain":[0,1],"nice":false,"zero":false},"axis":{"orient":"bottom","values":[0,0.222,0.423,0.635,1],"labelExpr":"datum.value==0||datum.value==1?'Γ':datum.value<0.3?'Q':datum.value<0.5?'K':'M'","labelFlush":false,"tickSize":-6,"labelPadding":17,"title":null,"labelFontSize":20}},
    "y":{"field":"E","type":"quantitative","scale":{"domain":[-2.5,2.5],"nice":false,"zero":false},"axis":{"orient":"left","values":[-2,-1,0,1,2],"labelExpr":"''+datum.value","tickSize":-6,"labelPadding":18,"labelFontSize":19,"title":"Energy [eV]","titleFontSize":19,"titleFontWeight":"normal","titleX":-62,"titleY":187,"titleAngle":270,"titleAlign":"center","titleBaseline":"middle"}},
    "detail":{"field":"b"}}},
  {"data":{"values":[{"k":0.047,"E":1.62,"t":"a)"},{"k":0.705,"E":0.89,"t":"3R stacking"}]},"mark":{"type":"text","align":"left","baseline":"alphabetic","fontSize":21,"color":"#111"},
   "encoding":{"x":{"field":"k","type":"quantitative","axis":{"orient":"top","values":[0.222,0.423,0.635],"labels":false,"tickSize":-6,"title":null}},
    "y":{"field":"E","type":"quantitative","axis":{"orient":"right","values":[-2,-1,0,1,2],"labels":false,"tickSize":-6,"title":null}},
    "text":{"field":"t"}}}
 ],
 "resolve":{"axis":{"x":"independent","y":"independent"}}},
{"width":509,"height":370,
 "layer":[
  {"data":{"name":"bandsB"},"mark":{"type":"line","color":"#e3201b","strokeWidth":1.1,"interpolate":"monotone","clip":true},
   "encoding":{"x":{"field":"k","type":"quantitative","scale":{"domain":[0,1],"nice":false,"zero":false},"axis":{"orient":"bottom","values":[0,0.222,0.423,0.635,1],"labelExpr":"datum.value==0||datum.value==1?'Γ':datum.value<0.3?'Q':datum.value<0.5?'K':'M'","labelFlush":false,"tickSize":-6,"labelPadding":17,"title":null,"labelFontSize":20}},
    "y":{"field":"E","type":"quantitative","scale":{"domain":[-2.5,2.5],"nice":false,"zero":false},"axis":{"orient":"left","values":[-2,-1,0,1,2],"labelExpr":"''+datum.value","tickSize":-6,"labelPadding":18,"labelFontSize":19,"title":"Energy [eV]","titleFontSize":19,"titleFontWeight":"normal","titleX":-62,"titleY":187,"titleAngle":270,"titleAlign":"center","titleBaseline":"middle"}},
    "detail":{"field":"b"}}},
  {"data":{"values":[{"k":0.047,"E":1.62,"t":"b)"},{"k":0.705,"E":0.89,"t":"2H stacking"}]},"mark":{"type":"text","align":"left","baseline":"alphabetic","fontSize":21,"color":"#111"},
   "encoding":{"x":{"field":"k","type":"quantitative","axis":{"orient":"top","values":[0.222,0.423,0.635],"labels":false,"tickSize":-6,"title":null}},
    "y":{"field":"E","type":"quantitative","axis":{"orient":"right","values":[-2,-1,0,1,2],"labels":false,"tickSize":-6,"title":null}},
    "text":{"field":"t"}}}
 ],
 "resolve":{"axis":{"x":"independent","y":"independent"}}}
],"spacing":125,"bounds":"flush"},
{"width":1149,"height":313,"view":{"stroke":null},
 "encoding":{"x":{"field":"X","type":"quantitative","scale":{"domain":[8,122.9],"nice":false,"zero":false},"axis":null}},
 "layer":[
  {"data":{"name":"curves"},"mark":{"type":"line","interpolate":"natural","strokeWidth":2.4},
   "encoding":{"y":{"field":"Y","type":"quantitative","scale":{"domain":[0,31.3],"nice":false,"zero":false},"axis":null},
    "detail":{"field":"c"},
    "color":{"field":"s","type":"nominal","scale":{"domain":["noSOC","bandUp","bandDown","both","up","down"],"range":["#4c4c9c","#ff6464","#5c5cff","#a85cb8","#ff0000","#0000ff"]},"legend":null},
    "strokeDash":{"field":"layer","type":"nominal","scale":{"domain":["L1","L2"],"range":[[1,0],[5,3]]},"legend":null}}},
  {"data":{"name":"arrows"},"mark":{"type":"rule","strokeWidth":2},
   "encoding":{"y":{"field":"tail","type":"quantitative"},"y2":{"field":"head"},
    "color":{"field":"spin","type":"nominal","legend":null}}},
  {"data":{"name":"arrows"},"mark":{"type":"point","filled":true,"size":36,"opacity":1},
   "encoding":{"y":{"field":"head","type":"quantitative"},
    "shape":{"field":"spin","type":"nominal","scale":{"domain":["up","down"],"range":["triangle-up","triangle-down"]},"legend":null},
    "color":{"field":"spin","type":"nominal","legend":null}}},
  {"data":{"name":"titles"},"mark":{"type":"text","font":"Liberation Serif","fontSize":18,"align":"left","baseline":"alphabetic","color":"#111"},
   "encoding":{"y":{"field":"Y","type":"quantitative"},"text":{"field":"t"}}},
  {"data":{"name":"klabels"},"mark":{"type":"text","font":"Liberation Serif","fontSize":25,"align":"center","baseline":"alphabetic","color":"#111"},
   "encoding":{"y":{"field":"Y","type":"quantitative"},"text":{"field":"t"}}}
 ]}
]
}
